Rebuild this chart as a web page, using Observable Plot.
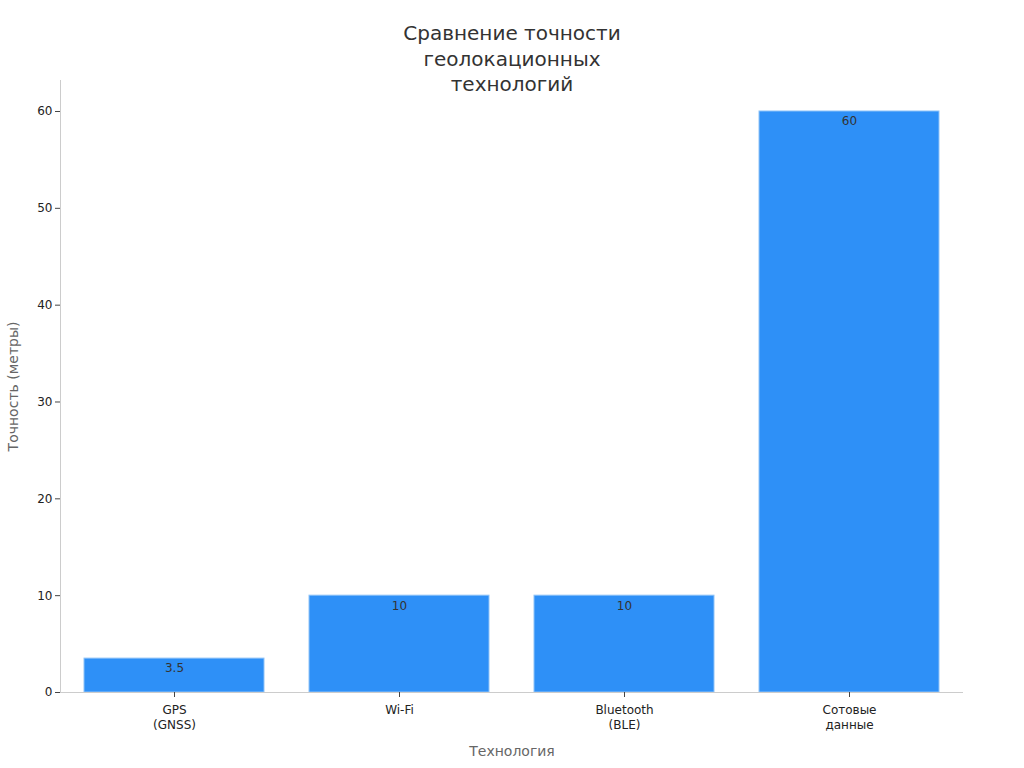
<!DOCTYPE html>
<html>
<head>
<meta charset="utf-8">
<script src="https://cdn.jsdelivr.net/npm/d3@7"></script>
<script src="https://cdn.jsdelivr.net/npm/@observablehq/plot@0.6"></script>
<style>
  html, body { margin: 0; padding: 0; background: #fff; }
  #wrap { position: relative; width: 1024px; height: 768px; font-family: "DejaVu Sans", sans-serif; }
  #title { position: absolute; left: 0; width: 1024px; top: 21px; text-align: center; font-size: 20px; line-height: 25.5px; color: #333; }
  svg { display: block; }
</style>
</head>
<body>
<div id="wrap">
  <div id="title">Сравнение точности<br>геолокационных<br>технологий</div>
</div>
<script>
const categories = ["GPS\n(GNSS)", "Wi-Fi", "Bluetooth\n(BLE)", "Сотовые\nданные"];
const accuracy = [3.5, 10, 10, 60];
const yTicks = [0, 10, 20, 30, 40, 50, 60];

const data = categories.map((c, i) => ({tech: c, value: accuracy[i]}));

const chart = Plot.plot({
  width: 1024,
  height: 768,
  marginLeft: 60,
  marginRight: 61,
  marginTop: 80,
  marginBottom: 76,
  style: {fontFamily: "DejaVu Sans, sans-serif", fontSize: "12px", color: "#222", background: "white"},
  x: {domain: categories, paddingInner: 0.2, paddingOuter: 0.1},
  y: {domain: [0, 63.2]},
  marks: [
    Plot.barY(data, {x: "tech", y: "value", fill: "#2E90F7", stroke: "#8fc3f8", strokeWidth: 1}),
    Plot.text(data, {x: "tech", y: "value", text: d => String(d.value), dy: 10, fill: "#333", fontSize: 12}),
    Plot.frame({anchor: "left", stroke: "#cccccc"}),
    Plot.ruleY([0], {stroke: "#cccccc"}),
    Plot.axisY({ticks: yTicks, tickSize: 5, tickPadding: 3, stroke: "#444", fill: "#222", fontSize: 12,
      label: "Точность (метры)", labelAnchor: "center", labelArrow: "none", labelOffset: 52}),
    Plot.axisX({tickSize: 5, tickPadding: 6, stroke: "#444", fill: "#222", fontSize: 12, lineHeight: 1.25,
      label: "Технология", labelAnchor: "center", labelArrow: "none", labelOffset: 63})
  ]
});
// style axis labels
chart.querySelectorAll("[aria-label='y-axis label'] text, [aria-label='x-axis label'] text").forEach(t => {
  t.setAttribute("fill", "#666");
  t.style.fontSize = "14px";
});
document.getElementById("wrap").prepend(chart);
</script>
</body>
</html>
